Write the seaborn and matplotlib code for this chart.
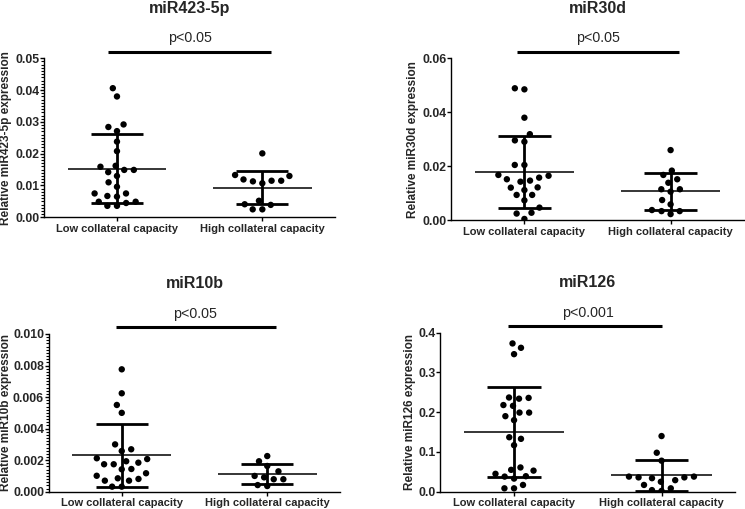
import numpy as np
import pandas as pd
import matplotlib
matplotlib.use("Agg")
import matplotlib.pyplot as plt
import seaborn as sns
from matplotlib.ticker import MultipleLocator, FormatStrFormatter

groups = ["Low collateral capacity", "High collateral capacity"]

mir423_low = [0.0406, 0.0380, 0.0292, 0.0284, 0.0271, 0.0238, 0.0208, 0.0149,
              0.0142, 0.0159, 0.0162, 0.0149, 0.0130, 0.0110, 0.0096, 0.0075,
              0.0065, 0.0067, 0.0075, 0.0049, 0.0036, 0.0036, 0.0049, 0.0045]
mir423_high = [0.0201, 0.0130, 0.0115, 0.0113, 0.0133, 0.0107, 0.0115, 0.0119,
               0.0052, 0.0039, 0.0025, 0.0025, 0.0041]

mir30d_low = [0.0489, 0.0485, 0.0380, 0.0319, 0.0296, 0.0291, 0.0205, 0.0205,
              0.0168, 0.0158, 0.0147, 0.0143, 0.0152, 0.0165, 0.0122, 0.0112,
              0.0094, 0.0094, 0.0121, 0.0074, 0.0047, 0.0028, 0.0025, 0.0005]
mir30d_high = [0.0260, 0.0168, 0.0184, 0.0152, 0.0115, 0.0106, 0.0115, 0.0139,
               0.0075, 0.0059, 0.0034, 0.0023, 0.0034, 0.0038]

mir10b_low = [0.00776, 0.00624, 0.00550, 0.00500, 0.00300, 0.00269, 0.00258,
              0.00207, 0.00184, 0.00174, 0.00174, 0.00193, 0.00212, 0.00144,
              0.00117, 0.00101, 0.00142, 0.00081, 0.00070, 0.00070, 0.00085,
              0.00032, 0.00032]
mir10b_high = [0.00226, 0.00193, 0.00129, 0.00163, 0.00091, 0.00079, 0.00100,
               0.00079, 0.00036, 0.00042]

mir126_low = [0.373, 0.362, 0.346, 0.236, 0.218, 0.216, 0.234, 0.237, 0.199,
              0.190, 0.199, 0.180, 0.133, 0.137, 0.117, 0.061, 0.055, 0.045,
              0.038, 0.033, 0.039, 0.053, 0.017, 0.0085, 0.0085]
mir126_high = [0.140, 0.098, 0.078, 0.038, 0.036, 0.034, 0.029, 0.036, 0.038,
               0.025, 0.017, 0.0085, 0.002, 0.004]

titles = ["miR423-5p", "miR30d", "miR10b", "miR126"]
ylabels = ["Relative miR423-5p expression", "Relative miR30d expression",
           "Relative miR10b expression", "Relative miR126 expression"]
pvals = ["p<0.05", "p<0.05", "p<0.05", "p<0.001"]

sns.set_theme(style="ticks")
plt.rcParams['font.family'] = ['Liberation Sans', 'DejaVu Sans']

W, H = 745, 509
fig = plt.figure(figsize=(W / 100, H / 100), dpi=100)

# axes boxes in pixels: left, right, top, bottom
boxes = [(44.3, 335, 58.3, 217.3), (451.3, 743.7, 58.3, 220.3),
         (49, 340, 334, 491.7), (440.3, 735.3, 332.7, 491.7)]
# x pixel of the y-label's right edge
label_x = [12.5, 419.0, 11.5, 416.5]
panels = [
    (mir423_low, mir423_high, 0.05, 0.01, 0.001, '%.2f', (-0.06, 1.06)),
    (mir30d_low, mir30d_high, 0.06, 0.02, None, '%.2f', (-0.05, 1.06)),
    (mir10b_low, mir10b_high, 0.010, 0.002, 0.0002, '%.3f', (-0.04, 1.06)),
    (mir126_low, mir126_high, 0.4, 0.1, None, '%.1f', (-0.04, 1.0)),
]

for i, (low, high, ytop, major, minor, fmt, br) in enumerate(panels):
    l, r, t, b = boxes[i]
    ax = fig.add_axes([l / W, 1 - b / H, (r - l) / W, (b - t) / H])
    df = pd.DataFrame({
        "group": [groups[0]] * len(low) + [groups[1]] * len(high),
        "value": list(low) + list(high),
    })
    sns.swarmplot(data=df, x="group", y="value", order=groups, color="black",
                  size=4.6, linewidth=2.0, edgecolor="none", ax=ax, zorder=3,
                  warn_thresh=1)
    for j, g in enumerate(groups):
        vals = df.loc[df.group == g, "value"].to_numpy()
        m = vals.mean()
        s = vals.std(ddof=1)
        ax.hlines(m, j - 0.34, j + 0.34, color="black", lw=1.1, zorder=4)
        ax.hlines([m - s, m + s], j - 0.18, j + 0.18, color="black", lw=2.0, zorder=4)
        ax.vlines(j, max(m - s, 0), m + s, color="black", lw=2.0, zorder=4)
    ax.set_xlim(-0.5, 1.5)
    ax.set_ylim(0, ytop)
    ax.yaxis.set_major_locator(MultipleLocator(major))
    ax.yaxis.set_major_formatter(FormatStrFormatter(fmt))
    if minor:
        ax.yaxis.set_minor_locator(MultipleLocator(minor))
        ax.tick_params(axis='y', which='minor', length=2.0, width=0.8, color='black')
    ax.set_xlabel("")
    ax.set_ylabel(ylabels[i], fontsize=8.5, fontweight='bold')
    ax.yaxis.set_label_coords((label_x[i] - l) / (r - l), 0.5)
    for sp in ["top", "right"]:
        ax.spines[sp].set_visible(False)
    for sp in ["left", "bottom"]:
        ax.spines[sp].set_linewidth(1.0)
        ax.spines[sp].set_color("black")
    ax.tick_params(axis='both', which='major', length=2.8, width=1.0, color='black',
                   pad=0.8)
    ax.tick_params(axis='x', pad=2.0)
    ax.tick_params(axis='y', labelsize=8.8)
    ax.tick_params(axis='x', labelsize=8.0)
    for lab in ax.get_yticklabels() + ax.get_xticklabels():
        lab.set_fontweight('bold')
    ah = b - t
    trans = ax.get_xaxis_transform()
    ax.plot([br[0], br[1]], [1 + 6.8 / ah, 1 + 6.8 / ah], color="black", lw=2.2,
            transform=trans, clip_on=False, solid_capstyle='butt')
    ax.text(0.5, 1 + 20 / ah, pvals[i], transform=trans, ha='center', va='center',
            fontsize=10.3)
    ax.text(0.5, 1 + 50 / ah, titles[i], transform=trans, ha='center', va='center',
            fontsize=11.5, fontweight='bold')

fig.savefig("out.png", dpi=100, facecolor="white")
